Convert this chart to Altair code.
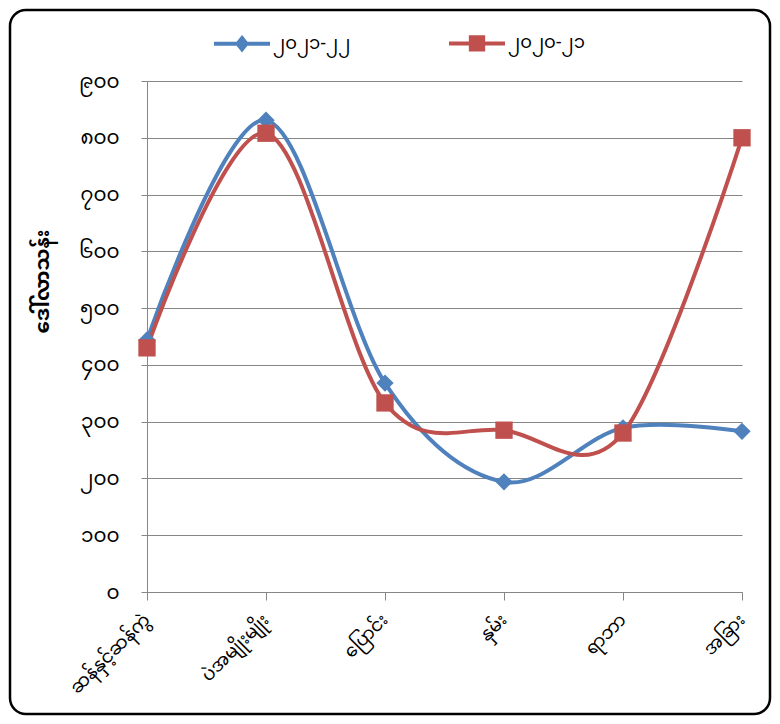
import altair as alt
import pandas as pd

categories = ["ဆန်နှင့်ဆန်ကွဲ", "ပဲအမျိုးမျိုး", "ပြောင်း", "နှမ်း", "ရာဘာ", "အခြား"]
series_names = ["၂၀၂၁-၂၂", "၂၀၂၀-၂၁"]
values_2021_22 = [444, 831, 368, 194, 289, 283]
values_2020_21 = [430, 808, 333, 285, 280, 800]
y_ticks = [0, 100, 200, 300, 400, 500, 600, 700, 800, 900]
y_tick_labels = ["၀", "၁၀၀", "၂၀၀", "၃၀၀", "၄၀၀", "၅၀၀", "၆၀၀", "၇၀၀", "၈၀၀", "၉၀၀"]
y_title = "ဒေါ်လာသန်း"
colors = ["#4F81BD", "#C0504D"]

FONT = "Noto Sans Myanmar, Padauk, Myanmar Text, Noto Sans, sans-serif"

rows = []
for s, vals in zip(series_names, [values_2021_22, values_2020_21]):
    for c, v in zip(categories, vals):
        rows.append({"cat": c, "series": s, "value": v})
df = pd.DataFrame(rows)

label_expr = "[" + ",".join("'" + l + "'" for l in y_tick_labels) + "][round(datum.value/100)]"

x_enc = alt.X(
    "cat:N", sort=categories, scale=alt.Scale(type="point", padding=0),
    axis=alt.Axis(title=None, grid=False, domainColor="#868686", tickColor="#868686",
                  tickSize=8, labelAngle=315, labelAlign="right", labelBaseline="middle",
                  labelFontSize=18, labelPadding=17, labelFont=FONT, labelColor="black"),
)
y_enc = alt.Y(
    "value:Q", scale=alt.Scale(domain=[0, 900], nice=False),
    axis=alt.Axis(values=y_ticks, labelExpr=label_expr, grid=True, gridColor="#868686",
                  domainColor="#868686", tickColor="#868686", tickSize=6,
                  labelFontSize=20, labelPadding=22, labelFont=FONT, labelColor="black",
                  title=y_title, titleFont=FONT, titleFontSize=20, titleFontWeight="bold",
                  titleColor="black", titleAngle=270, titleX=-105, titleY=200,
                  titleAlign="center", titleBaseline="middle"),
)
color_scale = alt.Scale(domain=series_names, range=colors)

base = alt.Chart(df)

border = alt.Chart(pd.DataFrame({"a": [0]})).mark_rect(
    cornerRadius=16, fillOpacity=0, stroke="black", strokeWidth=2.5
).encode(x=alt.value(-137), x2=alt.value(623), y=alt.value(-71), y2=alt.value(633))

lines = base.mark_line(interpolate="cardinal", strokeWidth=4).encode(
    x=x_enc, y=y_enc, color=alt.Color("series:N", scale=color_scale, legend=None)
)
pts_blue = base.transform_filter(alt.datum.series == series_names[0]).mark_point(
    shape="diamond", filled=True, size=300, opacity=1
).encode(x=x_enc, y=y_enc, color=alt.Color("series:N", scale=color_scale, legend=None))
pts_red = base.transform_filter(alt.datum.series == series_names[1]).mark_point(
    shape="square", filled=True, size=300, opacity=1
).encode(x=x_enc, y=y_enc, color=alt.Color("series:N", scale=color_scale, legend=None))

diamond_path = "M-1,0H1M0,-0.2L0.16,0L0,0.2L-0.16,0Z"
square_path = "M-1,0H1M-0.22,-0.22H0.22V0.22H-0.22Z"
legend_kw = dict(title=None, orient="none", direction="horizontal", legendX=65, legendY=-68,
                 symbolSize=3136, symbolStrokeWidth=4, labelFontSize=18, labelFont=FONT,
                 labelColor="black", columnPadding=90, labelOffset=1)
legend_layer = base.transform_filter("false").mark_point(size=3136, strokeWidth=4, opacity=1).encode(
    x=x_enc, y=y_enc,
    fill=alt.Fill("series:N", scale=color_scale, legend=alt.Legend(**legend_kw)),
    stroke=alt.Stroke("series:N", scale=color_scale, legend=alt.Legend(**legend_kw)),
    shape=alt.Shape("series:N", scale=alt.Scale(domain=series_names, range=[diamond_path, square_path]),
                    legend=alt.Legend(**legend_kw)),
)

chart = alt.layer(border, lines, pts_blue, pts_red, legend_layer).resolve_scale(
    color="independent", shape="independent", fill="independent", stroke="independent"
).resolve_legend(color="independent", shape="independent").properties(
    width=595, height=511,
    padding={"left": 139, "top": 73, "right": 30, "bottom": 124},
    autosize=alt.AutoSizeParams(type="none"),
    background="white",
).configure_view(stroke=None)

chart.save("out.html", embed_options={"renderer": "svg", "actions": False})
